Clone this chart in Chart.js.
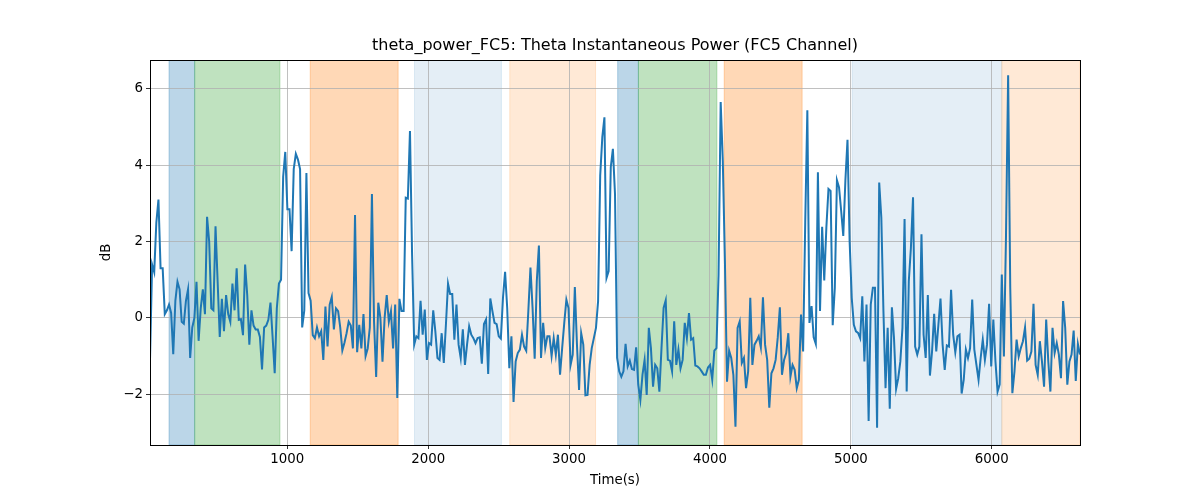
<!DOCTYPE html>
<html><head><meta charset="utf-8">
<script src="https://cdn.jsdelivr.net/npm/chart.js@4"></script>
<style>html,body{margin:0;padding:0;background:#fff}</style>
</head><body>
<canvas id="c" width="1200" height="500"></canvas>
<script>
// sampling grid of the recording (seconds)
const T0 = 26;
const STEP = 15;
// theta power of channel FC5 (dB)
const powerDb = [
-1.1,1.4,1.2,2.5,3.1,1.3,1.3,0.1,0.2,0.35,0.13,-0.95,0.45,0.95,0.75,-0.1,-0.15,0.45,0.75,-1.05,
-0.25,0,0.95,-0.6,0.25,0.75,0.1,2.65,2.0,0.25,0.2,2.4,0.95,-0.5,0.5,-0.35,0.6,0.1,-0.1,0.9,
0.2,1.3,-0.05,-0.03,-0.45,1.4,0.6,-0.7,0.2,-0.2,-0.3,-0.3,-0.5,-1.35,-0.25,-0.2,-0.05,0.4,-0.5,-1.45,
0.25,0.9,1.0,3.7,4.35,2.85,2.85,1.75,3.9,4.3,4.15,3.9,-0.25,0.2,3.8,0.65,0.45,-0.45,-0.53,-0.25,
-0.48,-0.35,-1.1,0.3,-0.75,0.35,0.55,-0.3,0.25,0.18,-0.25,-0.85,-0.65,-0.4,-0.1,-0.2,-0.8,2.7,-0.9,-0.18,
-0.8,0.1,-1.0,-0.8,-0.25,3.25,-0.1,-1.55,0.4,0,-1.15,0,0.6,-0.1,0.18,-0.8,0.35,-2.1,0.5,0.18,
0.18,3.15,3.13,4.9,1.65,-0.7,-0.48,-0.53,0.45,-0.44,0.22,-1.1,-0.66,-0.7,0.2,-0.35,-1.05,-1.1,-0.4,-1.18,
-0.18,0.9,0.63,0.63,-0.57,0.35,-0.7,-1.05,-0.3,-1.23,-0.7,-0.22,-0.44,-0.53,-0.66,-0.53,-0.51,-1.2,-0.16,-0.04,
-1.47,0.51,0.18,-0.13,-0.16,-0.48,-0.54,0.53,1.21,0.26,-1.32,-0.48,-2.2,-1.14,-0.92,-0.83,-0.44,-0.75,-0.86,0.18,
1.32,0.26,-1.07,0.96,1.9,-1.05,-0.13,-0.79,-0.48,-0.48,-1.0,-0.53,-0.96,-0.44,-1.49,-0.79,-0.13,0.48,0.26,-1.23,
-0.96,0.81,-0.70,-1.89,-0.40,-0.70,-2.03,-2.02,-1.23,-0.79,-0.53,-0.26,0.44,3.73,4.74,5.26,1.05,1.23,3.95,4.43,
3.25,-1.05,-1.4,-1.54,-1.4,-0.68,-1.27,-1.12,-1.34,-1.36,-0.77,-1.75,-2.15,-1.49,-1.1,-2.02,-0.26,-0.79,-1.8,-1.23,
-1.32,-1.93,-0.79,0.26,0.46,-1.1,-1.12,-1.4,-0.09,-1.23,-0.83,-1.32,-1.1,-0.13,-0.53,0.13,-0.57,-0.53,-1.25,-1.27,
-1.32,-1.4,-1.49,-1.49,-1.3,-1.23,-1.62,-0.86,-0.79,1.14,5.66,4.12,1.49,-1.67,-0.86,-1.05,-1.49,-2.85,-0.26,-0.09,
-1.18,-1.05,-1.84,-1.4,0.53,-1.23,-0.7,-0.6,-0.48,-0.77,0.54,-0.7,-1.1,-2.35,-1.45,-1.32,-1.1,-0.51,0.28,-1.49,
-1.1,-0.92,-0.4,-1.54,-1.23,-1.36,-1.84,-1.62,0.09,-0.88,2.50,5.44,-0.13,0.31,-0.51,-0.68,3.82,0.18,2.39,0.98,
2.37,3.38,3.33,-0.19,0.79,3.61,3.42,2.81,2.15,3.60,4.67,2.02,0.53,-0.18,-0.35,-0.39,-0.53,0.57,-1.14,0.35,
-2.70,0.35,0.79,0.79,-2.88,3.55,2.63,0.18,-1.84,-0.26,-2.38,0.28,-0.53,-1.86,-1.58,-1.14,-0.26,2.59,-1.93,0.96,
1.84,3.16,-0.75,-0.96,-0.75,2.19,-0.44,-1.05,0.60,-1.51,-0.88,0.11,-0.88,-0.18,0.51,-0.70,-1.36,-0.72,-0.75,0.74,
-0.44,-0.90,-0.48,-0.44,-1.98,-1.62,-0.83,-1.05,-0.79,0.48,-0.83,-1.23,-1.62,-1.05,-0.57,-1.10,-0.70,0.37,-1.27,-0.04,
-1.14,-1.93,-1.74,1.14,-1.01,2.19,6.36,0.79,-1.97,-1.40,-0.57,-1.01,-0.79,-0.61,-0.25,-1.12,-1.07,-0.88,0.37,-1.23,
-1.49,-0.61,-1.14,-1.80,-0.04,-1.14,-1.93,-0.26,-0.92,-0.66,-0.96,-1.58,0.44,-0.26,-1.75,-1.14,-0.96,-0.33,-1.65,-0.68,
-0.96
];
// shaded condition intervals (seconds)
const spanStart = [161, 343, 1163, 1903, 2579, 3345, 3492, 4101, 5009, 6071];
const spanEnd   = [343, 948, 1787, 2520, 3188, 3492, 4049, 4654, 6071, 6626];
const spanKind  = ['blue','green','orange','paleblue','paleorange','blue','green','orange','paleblue','paleorange'];
const xTicks = [1000, 2000, 3000, 4000, 5000, 6000];
const yTicks = [-2, 0, 2, 4, 6];
const X_MIN = 26, X_MAX = 6626, Y_MIN = -3.33, Y_MAX = 6.76;
const TITLE = 'theta_power_FC5: Theta Instantaneous Power (FC5 Channel)';

const spanStyle = {
  blue: 'rgba(31,119,180,0.3)',
  green: 'rgba(44,160,44,0.3)',
  orange: 'rgba(255,127,14,0.3)',
  paleblue: 'rgba(31,119,180,0.12)',
  paleorange: 'rgba(255,127,14,0.17)'
};

const points = powerDb.map((v, i) => ({x: T0 + i * STEP, y: v}));
const FONT = "'DejaVu Sans', sans-serif";

const spanPlugin = {
  id: 'spans',
  beforeDraw(chart) {
    const {ctx, chartArea: a, scales: {x}} = chart;
    ctx.save();
    ctx.beginPath(); ctx.rect(a.left, a.top, a.right - a.left, a.bottom - a.top); ctx.clip();
    for (let i = 0; i < spanStart.length; i++) {
      const x0 = x.getPixelForValue(spanStart[i]);
      const x1 = x.getPixelForValue(spanEnd[i]);
      ctx.fillStyle = spanStyle[spanKind[i]];
      ctx.fillRect(x0, a.top, x1 - x0, a.bottom - a.top);
      ctx.strokeStyle = spanStyle[spanKind[i]];
      ctx.lineWidth = 1;
      ctx.strokeRect(x0, a.top, x1 - x0, a.bottom - a.top);
    }
    ctx.restore();
  },
  afterDraw(chart) {
    const {ctx, chartArea: a} = chart;
    ctx.save();
    ctx.strokeStyle = '#000';
    ctx.lineWidth = 1;
    ctx.strokeRect(Math.round(a.left) + 0.5, Math.round(a.top) + 0.5, Math.round(a.right - a.left), Math.round(a.bottom - a.top));
    ctx.fillStyle = '#000';
    ctx.textAlign = 'center';
    ctx.textBaseline = 'middle';
    ctx.font = "16px " + FONT;
    ctx.fillText(TITLE, (a.left + a.right) / 2, 46);
    ctx.font = "13.33px " + FONT;
    ctx.fillText('Time(s)', (a.left + a.right) / 2, 481);
    ctx.translate(107, (a.top + a.bottom) / 2);
    ctx.rotate(-Math.PI / 2);
    ctx.fillText('dB', 0, 0);
    ctx.restore();
  }
};

const fmt = v => (v < 0 ? '\u2212' + Math.abs(v) : String(v));

new Chart(document.getElementById('c'), {
  type: 'line',
  data: {datasets: [{
    data: points,
    borderColor: '#1f77b4',
    borderWidth: 2,
    pointRadius: 0,
    tension: 0,
    fill: false
  }]},
  options: {
    responsive: false,
    animation: false,
    devicePixelRatio: 1,
    layout: {padding: {left: 0, right: 120, top: 60, bottom: 0}},
    plugins: {
      legend: {display: false},
      tooltip: {enabled: false},
      title: {display: false}
    },
    scales: {
      x: {
        type: 'linear', min: X_MIN, max: X_MAX,
        afterBuildTicks: s => { s.ticks = xTicks.map(v => ({value: v})); },
        afterFit: s => { s.height = 55; },
        ticks: {color: '#000', font: {family: FONT, size: 13.33}, padding: 3, maxRotation: 0, autoSkip: false, callback: v => fmt(v)},
        grid: {color: '#b0b0b0', lineWidth: 0.8, tickColor: '#000', tickLength: 4, drawTicks: true},
        border: {display: false}
      },
      y: {
        type: 'linear', min: Y_MIN, max: Y_MAX,
        afterBuildTicks: s => { s.ticks = yTicks.map(v => ({value: v})); },
        afterFit: s => { s.width = 150; },
        ticks: {color: '#000', font: {family: FONT, size: 13.33}, padding: 3, callback: v => fmt(v)},
        grid: {color: '#b0b0b0', lineWidth: 0.8, tickColor: '#000', tickLength: 4, drawTicks: true},
        border: {display: false}
      }
    }
  },
  plugins: [spanPlugin]
});
</script>
</body></html>
